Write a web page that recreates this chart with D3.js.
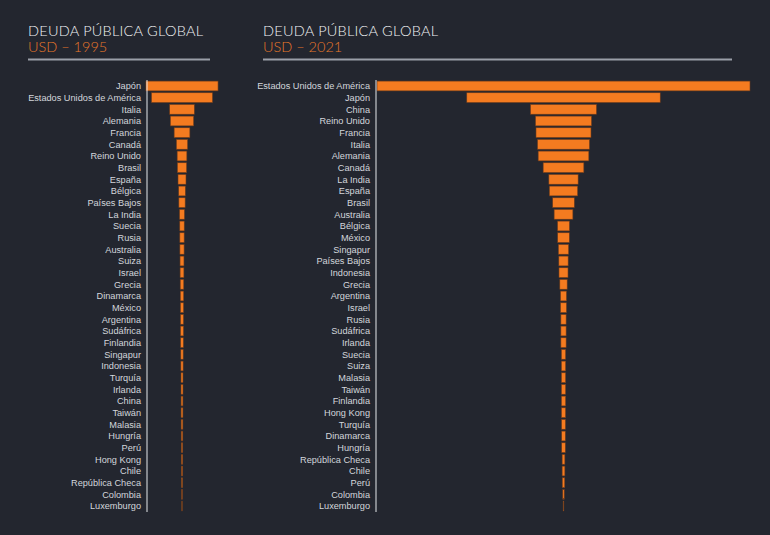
<!DOCTYPE html>
<html>
<head>
<meta charset="utf-8">
<script src="https://cdn.jsdelivr.net/npm/d3@7"></script>
<style>
  html, body { margin: 0; padding: 0; background: #23262f; }
  svg { display: block; }
</style>
</head>
<body>
<svg id="chart" width="770" height="535"></svg>
<script>
// Deuda pública (billones USD)
const countries1995 = ["Japón", "Estados Unidos de América", "Italia", "Alemania", "Francia", "Canadá",
  "Reino Unido", "Brasil", "España", "Bélgica", "Países Bajos", "La India", "Suecia", "Rusia",
  "Australia", "Suiza", "Israel", "Grecia", "Dinamarca", "México", "Argentina", "Sudáfrica",
  "Finlandia", "Singapur", "Indonesia", "Turquía", "Irlanda", "China", "Taiwán", "Malasia",
  "Hungría", "Perú", "Hong Kong", "Chile", "República Checa", "Colombia", "Luxemburgo"];
const debt1995 = [5.49, 4.65, 1.88, 1.78, 1.20, 0.86, 0.74, 0.71, 0.61, 0.51, 0.48, 0.38, 0.34, 0.33,
  0.32, 0.30, 0.29, 0.27, 0.26, 0.24, 0.23, 0.23, 0.21, 0.18, 0.17, 0.15, 0.15, 0.14, 0.14, 0.13,
  0.12, 0.11, 0.11, 0.10, 0.09, 0.06, 0.04];

const countries2021 = ["Estados Unidos de América", "Japón", "China", "Reino Unido", "Francia", "Italia",
  "Alemania", "Canadá", "La India", "España", "Brasil", "Australia", "Bélgica", "México", "Singapur",
  "Países Bajos", "Indonesia", "Grecia", "Argentina", "Israel", "Rusia", "Sudáfrica", "Irlanda",
  "Suecia", "Suiza", "Malasia", "Taiwán", "Finlandia", "Hong Kong", "Turquía", "Dinamarca",
  "Hungría", "República Checa", "Chile", "Perú", "Colombia", "Luxemburgo"];
const debt2021 = [28.4, 14.73, 5.03, 4.27, 4.19, 3.96, 3.86, 3.10, 2.23, 2.16, 1.65, 1.43, 0.91, 0.89,
  0.79, 0.71, 0.69, 0.56, 0.46, 0.46, 0.40, 0.40, 0.40, 0.33, 0.33, 0.33, 0.33, 0.33, 0.32, 0.30,
  0.28, 0.28, 0.21, 0.21, 0.19, 0.11, 0.05];

const svg = d3.select("#chart");
const orange = "#f47b20";

// same value scale for both panels
const w = d3.scaleLinear()
  .domain([0, d3.max(debt1995.concat(debt2021))])
  .range([0, 373]);

const panels = [
  { names: countries1995, values: debt1995, year: "1995", titleX: 28, ruleEnd: 210, axisX: 147, center: 182 },
  { names: countries2021, values: debt2021, year: "2021", titleX: 263, ruleEnd: 732, axisX: 376, center: 563.5 }
];

panels.forEach(p => {
  const g = svg.append("g");

  g.append("text")
    .attr("x", p.titleX).attr("y", 36)
    .attr("fill", "#f2f3f5")
    .style("font", "300 14.5px Lato, sans-serif")
    .attr("textLength", 175)
    .text("DEUDA PÚBLICA GLOBAL");

  g.append("text")
    .attr("x", p.titleX).attr("y", 52)
    .attr("fill", "#e8782a")
    .style("font", "300 14.5px Lato, sans-serif")
    .text("USD – " + p.year);

  g.append("line")
    .attr("x1", p.titleX).attr("x2", p.ruleEnd)
    .attr("y1", 59.5).attr("y2", 59.5)
    .attr("stroke", "#9a9ea8").attr("stroke-width", 2);

  const y = d3.scaleBand()
    .domain(p.names)
    .range([80.5, 511.5])
    .paddingInner(0.16)
    .paddingOuter(0.05);

  g.selectAll("rect")
    .data(p.values)
    .join("rect")
    .attr("x", d => p.center - w(d) / 2)
    .attr("width", d => w(d))
    .attr("y", (d, i) => y(p.names[i]))
    .attr("height", y.bandwidth())
    .attr("fill", orange)
    .attr("stroke", "#6b3a1c")
    .attr("stroke-width", 0.6);

  g.append("line")
    .attr("x1", p.axisX).attr("x2", p.axisX)
    .attr("y1", 80).attr("y2", 512)
    .attr("stroke", "#e6e8ec").attr("stroke-width", 1);

  g.selectAll("text.label")
    .data(p.names)
    .join("text")
    .attr("class", "label")
    .attr("x", p.axisX - 6)
    .attr("y", d => y(d) + y.bandwidth() / 2)
    .attr("dy", "0.35em")
    .attr("text-anchor", "end")
    .attr("fill", "#d3d6dc")
    .style("font", "9.2px 'Liberation Sans', Arial, sans-serif")
    .text(d => d);
});
</script>
</body>
</html>
